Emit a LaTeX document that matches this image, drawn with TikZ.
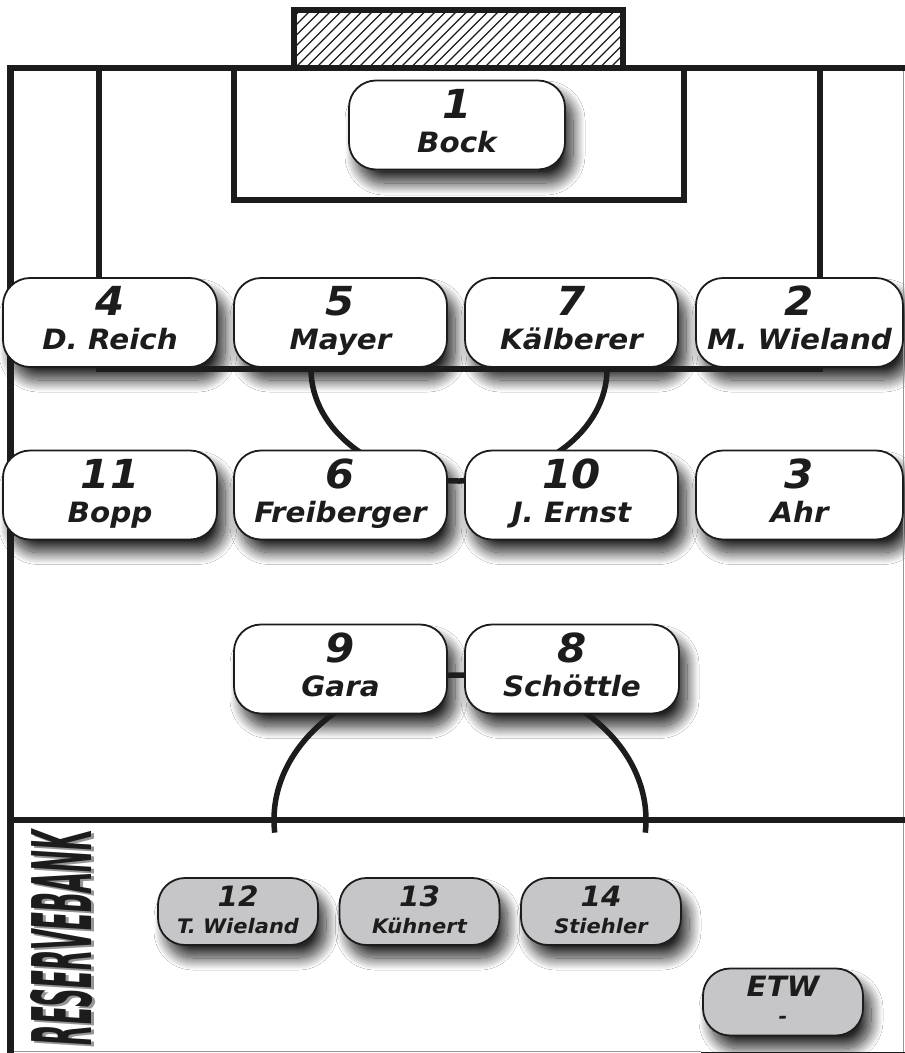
\documentclass[tikz,border=0pt]{standalone}
\usepackage{fontspec}
\usepackage{graphicx}
\usetikzlibrary{shadows.blur}
\newfontfamily\pf[FakeStretch=1.05]{DejaVu Sans Bold Oblique}
\newfontfamily\rf{DejaVu Sans Condensed Bold Oblique}
\definecolor{ink}{RGB}{28,28,28}
\definecolor{benchgray}{RGB}{198,198,200}
\definecolor{edgegray}{RGB}{150,150,150}
\tikzset{
  fieldline/.style={draw=ink, line width=5.5pt},
  hatchline/.style={draw=ink, line width=1.1pt},
  shadbox/.style={rectangle, rounded corners=27pt, fill=white, draw=none, inner sep=0pt,
    blur shadow={shadow xshift=8pt, shadow yshift=-13pt, shadow blur radius=12pt,
      shadow blur steps=24, shadow opacity=85}},
  bigbox/.style={rectangle, rounded corners=27pt, draw=ink, line width=1.8pt, fill=white,
    minimum height=89pt, inner sep=0pt},
  benchbox/.style={rectangle, rounded corners=27pt, draw=ink, line width=1.8pt, fill=benchgray,
    minimum width=160pt, minimum height=67pt, inner sep=0pt},
  numtxt/.style={font=\pf\fontsize{40}{40}\selectfont, text=ink, inner sep=0pt, anchor=base},
  nametxt/.style={font=\pf\fontsize{28}{28}\selectfont, text=ink, inner sep=0pt, anchor=base},
  bnumtxt/.style={font=\pf\fontsize{28}{28}\selectfont, text=ink, inner sep=0pt, anchor=base},
  bnametxt/.style={font=\pf\fontsize{20}{20}\selectfont, text=ink, inner sep=0pt, anchor=base},
}
\newcommand\shadowat[5]{\node[shadbox, minimum width=#4pt, minimum height=#5pt] (#1) at (#2,#3) {};}
\newcommand\player[6]{%
  \node[bigbox, minimum width=#4pt] (#1) at (#2,#3) {};
  \node[numtxt] (#1n) at ([yshift=7pt]#1.center) {#5};
  \node[nametxt] (#1t) at ([yshift=-27pt]#1.center) {#6};}
\newcommand\benchp[5]{%
  \node[benchbox] (#1) at (#2,#3) {};
  \node[bnumtxt] (#1n) at ([yshift=5.5pt]#1.center) {#4};
  \node[bnametxt] (#1t) at ([yshift=-21.5pt]#1.center) {#5};}
\begin{document}
\begin{tikzpicture}[x=1pt,y=-1pt]
\useasboundingbox (0,0) rectangle (905,1053);
\fill[white] (0,0) rectangle (905,1053);
% ---- shadows pass
\shadowat{s1}{457}{125}{216}{90}
\shadowat{s4}{110}{322.5}{214}{89}
\shadowat{s5}{340.5}{322.5}{213}{89}
\shadowat{s7}{571.5}{322.5}{213}{89}
\shadowat{s2}{799.5}{322.5}{207}{89}
\shadowat{s11}{110}{495}{214}{89}
\shadowat{s6}{340.5}{495}{213}{89}
\shadowat{s10}{571.5}{495}{213}{89}
\shadowat{s3}{799.5}{495}{207}{89}
\shadowat{s9}{340.5}{669}{213}{89}
\shadowat{s8}{572}{669}{214}{89}
\shadowat{s12}{238}{911.5}{160}{67}
\shadowat{s13}{419.5}{911.5}{160}{67}
\shadowat{s14}{601}{911.5}{160}{67}
\shadowat{setw}{783}{1002}{160}{67}
% ---- field markings
\draw[edgegray, line width=1pt] (903.5,68) -- (903.5,1053);
\draw[edgegray, line width=1.2pt] (10,1051.5) -- (701,1051.5);
\draw[ink, line width=3pt] (701,1053) -- (905,1053);
\draw[fieldline, line width=6.5pt] (10.5,1053) -- (10.5,68) -- (905,68);
\begin{scope}
  \clip (296.75,12.75) rectangle (620.25,65.25);
  \foreach \i in {0,...,40} \draw[hatchline] ({230+\i*10.5},70) -- ({292+\i*10.5},8);
\end{scope}
\draw[fieldline] (294,68) -- (294,10) -- (623,10) -- (623,68);
\draw[fieldline] (234,68) -- (234,200) -- (684,200) -- (684,68);
\draw[fieldline] (99,68) -- (99,369) -- (820,369) -- (820,68);
\draw[fieldline] (607,369) arc[start angle=0, end angle=180, x radius=148, y radius=112];
\draw[fieldline] (10,820) -- (905,820);
\draw[fieldline] (274.71,832.64) arc[start angle=175, end angle=365, x radius=186, y radius=145];
% ---- players
\player{p1}{457}{125}{216}{1}{Bock}
\player{p4}{110}{322.5}{214}{4}{D. Reich}
\player{p5}{340.5}{322.5}{213}{5}{Mayer}
\player{p7}{571.5}{322.5}{213}{7}{Kälberer}
\player{p2}{799.5}{322.5}{207}{2}{M. Wieland}
\player{p11}{110}{495}{214}{11}{Bopp}
\player{p6}{340.5}{495}{213}{6}{Freiberger}
\player{p10}{571.5}{495}{213}{10}{J. Ernst}
\player{p3}{799.5}{495}{207}{3}{Ahr}
\player{p9}{340.5}{669}{213}{9}{Gara}
\player{p8}{572}{669}{214}{8}{Schöttle}
% ---- bench
\benchp{b12}{238}{911.5}{12}{T. Wieland}
\benchp{b13}{419.5}{911.5}{13}{Kühnert}
\benchp{b14}{601}{911.5}{14}{Stiehler}
\benchp{etw}{783}{1002}{ETW}{-}
\node[rotate=90, inner sep=0pt, text=edgegray] (rbs) at (64.5,939.5) {\resizebox{215pt}{61pt}{\rf RESERVEBANK}};
\node[rotate=90, inner sep=0pt, text=ink] (rb) at (62,937.5) {\resizebox{215pt}{61pt}{\rf RESERVEBANK}};
\end{tikzpicture}
\end{document}
